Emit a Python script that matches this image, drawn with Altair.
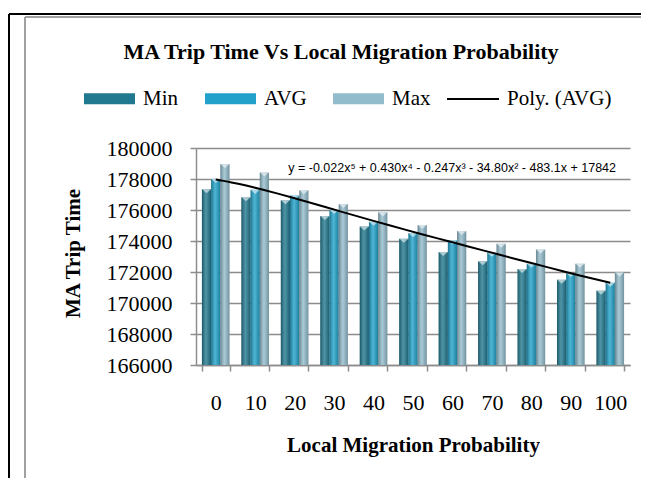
import altair as alt
import pandas as pd

categories = ["0", "10", "20", "30", "40", "50", "60", "70", "80", "90", "100"]
min_vals = [177340, 176820, 176630, 175610, 174940, 174150, 173290, 172700, 172190, 171500, 170800]
avg_vals = [178000, 177300, 176930, 176000, 175250, 174510, 174040, 173240, 172530, 171940, 171310]
max_vals = [178960, 178420, 177280, 176390, 175850, 175030, 174650, 173830, 173450, 172530, 171960]
series_names = ["Min", "AVG", "Max"]
series_colors = ["#21798f", "#22a2ca", "#92bccb"]
trend_name = "Poly. (AVG)"
equation = "y = -0.022x\u2075 + 0.430x\u2074 - 0.247x\u00b3 - 34.80x\u00b2 - 483.1x + 17842"
y_ticks = list(range(166000, 180001, 2000))

W, H = 434, 217
PAD = {"left": 188, "top": 140, "right": 11, "bottom": 113}

wide = pd.DataFrame({
    "idx": list(range(1, len(categories) + 1)),
    "cat": categories,
    "Min": min_vals,
    "AVG": avg_vals,
    "Max": max_vals,
})
long = wide.melt(id_vars=["idx", "cat"], value_vars=series_names,
                 var_name="series", value_name="value")

grey = "#8c8c8c"
serif = "Liberation Serif"

yscale = alt.Scale(domain=[166000, 180000], nice=False, zero=False, clamp=True)

x_enc = alt.X("cat:N", sort=categories,
              scale=alt.Scale(paddingInner=0.3, paddingOuter=0.15),
              axis=alt.Axis(title="Local Migration Probability", labelAngle=0,
                            tickBand="extent", tickSize=6, grid=False,
                            labelFontSize=22, labelBaseline="middle", labelPadding=31,
                            titleFontSize=21, titleFontWeight="bold",
                            titleX=W / 2, titleY=80, titleBaseline="middle"))
xoff = alt.XOffset("series:N", sort=series_names,
                   scale=alt.Scale(domain=series_names, paddingInner=0, paddingOuter=0))
y_enc = alt.Y("value:Q", scale=yscale,
              axis=alt.Axis(title="MA Trip Time", values=y_ticks, format="d",
                            tickSize=6, grid=True, labelFontSize=22, labelPadding=18,
                            titleFontSize=21, titleFontWeight="bold",
                            titleAngle=270, titleX=-123, titleY=105,
                            titleAlign="center", titleBaseline="middle"))

bars = alt.Chart(long).mark_bar().encode(
    x=x_enc, xOffset=xoff, y=y_enc,
    color=alt.Color("series:N", sort=series_names,
                    scale=alt.Scale(domain=series_names, range=series_colors),
                    legend=alt.Legend(orient="none", legendX=-112, legendY=-75,
                                      direction="horizontal", title=None,
                                      symbolType="M-1,-0.22H1V0.22H-1Z", symbolSize=2601,
                                      symbolStrokeWidth=0, symbolOpacity=1,
                                      labelFont=serif, labelFontSize=21, labelColor="black",
                                      labelOffset=8, columnPadding=26, padding=0)),
)

shade = alt.LinearGradient(
    gradient="linear", x1=0, x2=1, y1=0, y2=0,
    stops=[alt.GradientStop(color="rgba(0,0,0,0.30)", offset=0),
           alt.GradientStop(color="rgba(255,255,255,0.20)", offset=0.45),
           alt.GradientStop(color="rgba(0,0,0,0.22)", offset=1)])
overlay = alt.Chart(long).mark_bar(color=shade).encode(
    x=x_enc, xOffset=xoff, y=y_enc)

caps = alt.Chart(long).mark_point(shape="M-1,0H1L0,0.9Z", filled=True, fill="white",
                                  opacity=0.55, size=81, strokeWidth=0).encode(
    x=x_enc, xOffset=xoff, y=y_enc)

bar_layer = alt.layer(bars, overlay, caps)

trend = alt.Chart(wide).transform_regression(
    "idx", "AVG", method="poly", order=5
).transform_calculate(value="datum.AVG", trend="'Poly. (AVG)'").mark_line(strokeWidth=2).encode(
    x=alt.X("idx:Q", scale=alt.Scale(domain=[0.5, len(categories) + 0.5], nice=False, zero=False),
            axis=None),
    y=y_enc,
    stroke=alt.Stroke("trend:N", scale=alt.Scale(domain=[trend_name], range=["black"]),
                      legend=alt.Legend(orient="none", legendX=250, legendY=-76, title=None,
                                        symbolType="stroke", symbolSize=2704,
                                        symbolStrokeWidth=2, labelFont=serif,
                                        labelFontSize=21, labelColor="black",
                                        labelOffset=7, padding=0)),
)

plot = alt.layer(bar_layer, trend).resolve_scale(x="independent")

eq_text = alt.Chart(pd.DataFrame({"t": [equation]})).mark_text(
    font="Liberation Sans", fontSize=12.5, align="right", baseline="middle", color="black"
).encode(text="t:N", x=alt.value(420), y=alt.value(20))

left_edge = -PAD["left"]
right_edge = W + PAD["right"]
bottom_edge = H + PAD["bottom"]

frame_df = pd.DataFrame({"k": [0]})
black_v = alt.Chart(frame_df).mark_rule(color="black", strokeWidth=2).encode(
    x=alt.value(left_edge + 1), y=alt.value(-134), y2=alt.value(bottom_edge))
black_h = alt.Chart(frame_df).mark_rule(color="black", strokeWidth=2).encode(
    y=alt.value(-134), x=alt.value(left_edge + 1), x2=alt.value(right_edge))
grey_v = alt.Chart(frame_df).mark_rule(color="#a0a0a0", strokeWidth=2).encode(
    x=alt.value(-171), y=alt.value(-131), y2=alt.value(bottom_edge))
grey_h = alt.Chart(frame_df).mark_rule(color="#a0a0a0", strokeWidth=2).encode(
    y=alt.value(-131), x=alt.value(-171), x2=alt.value(right_edge))

chart = alt.layer(plot, eq_text, black_v, black_h, grey_v, grey_h).properties(
    width=W, height=H,
    autosize=alt.AutoSizeParams(type="none"),
    padding=PAD,
    title=alt.TitleParams(text="MA Trip Time Vs Local Migration  Probability",
                          font=serif, fontSize=22, fontWeight="bold", color="black",
                          anchor="middle", frame="group", dx=-72, dy=55),
).configure_view(strokeWidth=0).configure_axis(
    domainColor=grey, domainWidth=1.5, gridColor=grey, gridWidth=1.5,
    tickColor=grey, tickWidth=1.5, labelFont=serif, labelColor="black",
    titleFont=serif, titleColor="black",
)

chart.save("out.html", embed_options={"renderer": "svg", "actions": False})
